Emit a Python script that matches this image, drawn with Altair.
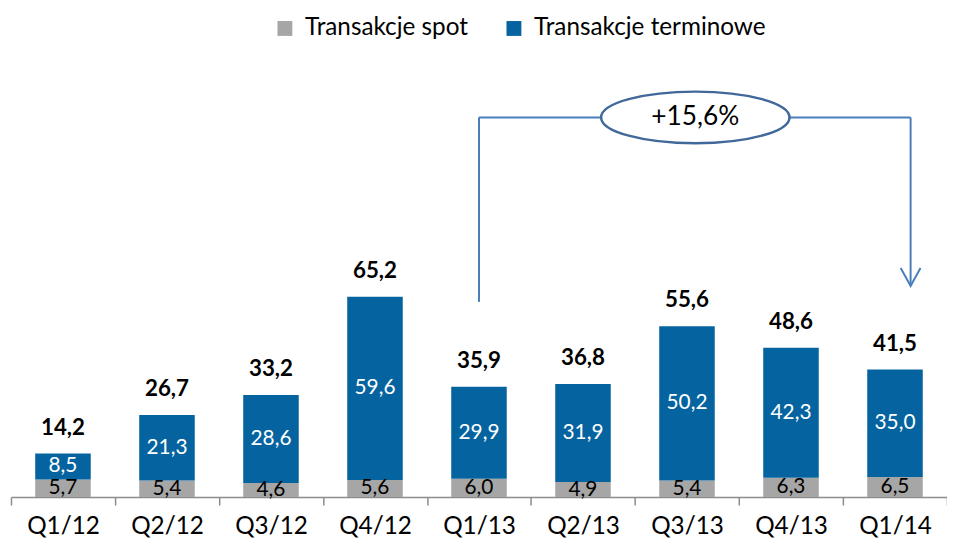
import altair as alt
import pandas as pd

categories = ["Q1/12", "Q2/12", "Q3/12", "Q4/12", "Q1/13", "Q2/13", "Q3/13", "Q4/13", "Q1/14"]
spot = [5.7, 5.4, 4.6, 5.6, 6.0, 4.9, 5.4, 6.3, 6.5]
terminowe = [8.5, 21.3, 28.6, 59.6, 29.9, 31.9, 50.2, 42.3, 35.0]
totals = [14.2, 26.7, 33.2, 65.2, 35.9, 36.8, 55.6, 48.6, 41.5]
series_names = ["Transakcje spot", "Transakcje terminowe"]
growth_label = "+15,6%"

GRAY = "#A6A6A6"
BLUE = "#05649F"
LINE = "#4A7EBB"
FONT = "Lato"

rows = []
for c, s, t in zip(categories, spot, terminowe):
    rows.append({"cat": c, "series": series_names[0], "value": s, "y0": 0.0, "y1": s})
    rows.append({"cat": c, "series": series_names[1], "value": t, "y0": s, "y1": s + t})
df = pd.DataFrame(rows)
df["mid"] = (df["y0"] + df["y1"]) / 2
tot_df = pd.DataFrame({"cat": categories, "total": totals})

# annotation data (value units)
ann_v = pd.DataFrame({"cat": ["Q1/13"], "y": [63.5], "y2": [123.5]})
ann_h = pd.DataFrame({"cat": ["Q1/13"], "cat2": ["Q1/14"], "y": [123.5]})
ann_r = pd.DataFrame({"cat": ["Q1/14"], "y": [123.5], "y2": [68.7]})
ann_e = pd.DataFrame({"cat": ["Q3/13"], "y": [123.5], "label": [growth_label]})

LPOS = 0.5
RPOS = 0.65

xscale = alt.Scale(domain=categories, paddingInner=0, paddingOuter=0)
yscale = alt.Scale(domain=[0, 140.3], nice=False)

xenc = alt.X("cat:N", scale=xscale, sort=categories, title=None,
             axis=alt.Axis(labelAngle=0, labelFontSize=24.5, labelFont=FONT, labelColor="black",
                           domainColor="#8C8C8C", domainWidth=1.5, tickColor="#8C8C8C",
                           tickWidth=1.5, tickSize=8, tickBand="extent", labelPadding=10,
                           grid=False))

base = alt.Chart(df)

bars = base.mark_bar(size=56).encode(
    x=xenc,
    y=alt.Y("y0:Q", scale=yscale, axis=None),
    y2="y1:Q",
    color=alt.Color("series:N", scale=alt.Scale(domain=series_names, range=[GRAY, BLUE]),
                    legend=alt.Legend(title=None, orient="none", direction="horizontal",
                                      legendX=264, legendY=-50, symbolType="square",
                                      symbolSize=225, symbolStrokeWidth=0, labelFontSize=24.5,
                                      labelFont=FONT, labelColor="black", labelOffset=8,
                                      labelLimit=0, columnPadding=34)),
)

seg_text = base.mark_text(font=FONT, fontSize=21).transform_calculate(
    lab="replace(format(datum.value, '.1f'), '.', ',')"
).encode(
    x=alt.X("cat:N", scale=xscale, sort=categories),
    y=alt.Y("mid:Q", scale=yscale),
    text="lab:N",
    color=alt.Color("series:N", scale=alt.Scale(domain=series_names, range=["black", "white"]), legend=None),
)

tot_text = alt.Chart(tot_df).mark_text(font=FONT, fontSize=22.5, fontWeight="bold",
                                        baseline="alphabetic", dy=-19, color="black").transform_calculate(
    lab="replace(format(datum.total, '.1f'), '.', ',')"
).encode(
    x=alt.X("cat:N", scale=xscale, sort=categories),
    y=alt.Y("total:Q", scale=yscale),
    text="lab:N",
)

left_rule = alt.Chart(ann_v).mark_rule(color=LINE, strokeWidth=2).encode(
    x=alt.X("cat:N", scale=xscale, sort=categories, bandPosition=LPOS),
    y=alt.Y("y:Q", scale=yscale), y2="y2:Q")
h_rule = alt.Chart(ann_h).mark_rule(color=LINE, strokeWidth=2).encode(
    x=alt.X("cat:N", scale=xscale, sort=categories, bandPosition=LPOS),
    x2=alt.X2("cat2:N", bandPosition=RPOS),
    y=alt.Y("y:Q", scale=yscale))
right_rule = alt.Chart(ann_r).mark_rule(color=LINE, strokeWidth=2).encode(
    x=alt.X("cat:N", scale=xscale, sort=categories, bandPosition=RPOS),
    y=alt.Y("y:Q", scale=yscale), y2="y2:Q")
arrow = alt.Chart(ann_r).mark_point(shape="M-1,-1.8L0,0L1,-1.8", size=400, filled=False,
                                    color=LINE, strokeWidth=2, opacity=1).encode(
    x=alt.X("cat:N", scale=xscale, sort=categories, bandPosition=RPOS),
    y=alt.Y("y2:Q", scale=yscale))
ellipse = alt.Chart(ann_e).mark_point(shape="M-1,0A1,0.274,0,1,0,1,0A1,0.274,0,1,0,-1,0Z",
                                      size=36100, filled=True, fill="white", stroke="#41689A",
                                      strokeWidth=2.5, opacity=1).encode(
    x=alt.X("cat:N", scale=xscale, sort=categories, bandPosition=0.58),
    y=alt.Y("y:Q", scale=yscale))
ell_text = alt.Chart(ann_e).mark_text(font=FONT, fontSize=26.5, color="black").encode(
    x=alt.X("cat:N", scale=xscale, sort=categories, bandPosition=0.58),
    y=alt.Y("y:Q", scale=yscale), text="label:N")

chart = alt.layer(bars, seg_text, tot_text, left_rule, h_rule, right_rule, arrow, ellipse, ell_text).resolve_scale(
    color="independent"
).properties(
    width=944, height=435,
    autosize=alt.AutoSizeParams(type="none"),
    padding={"left": 3, "top": 56, "right": 0, "bottom": 42},
).configure_view(stroke=None)

chart.save("out.html", embed_options={"renderer": "svg", "actions": False})
